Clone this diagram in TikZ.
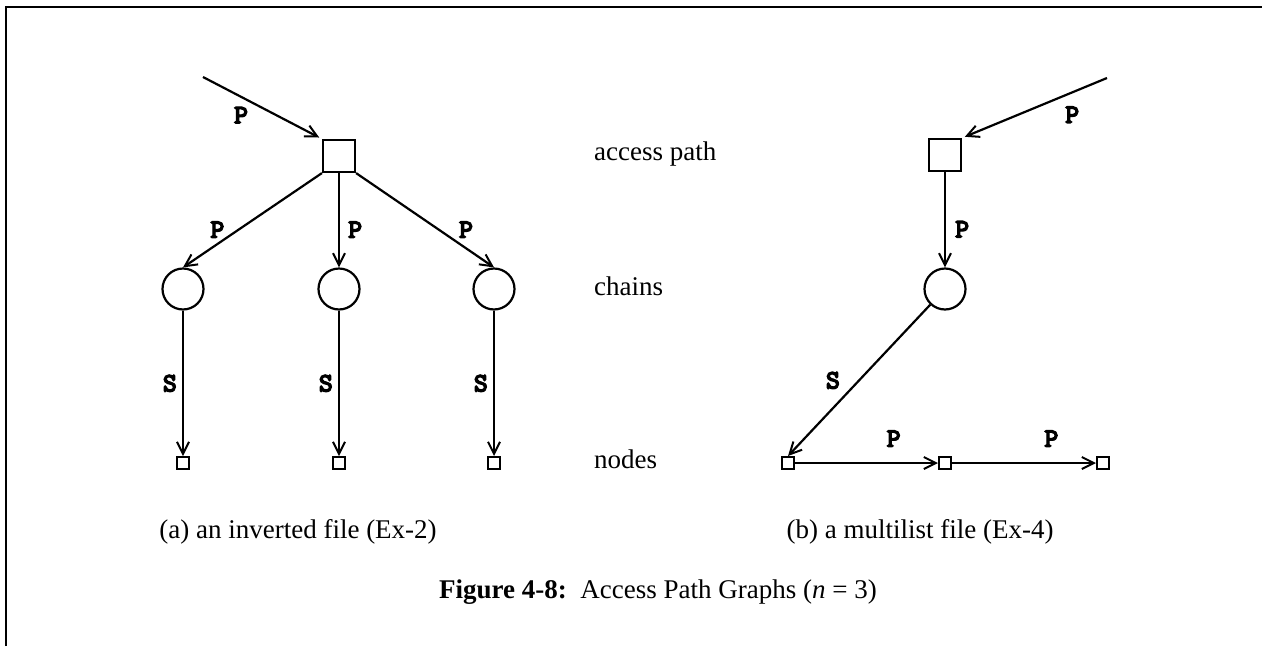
\documentclass[tikz,border=0pt]{standalone}
\usepackage{fontspec}
\setmainfont{Liberation Serif}
\newfontfamily\lblfont[FakeBold=4]{lmmonolt10-bold.otf}
\usetikzlibrary{arrows.meta}

\begin{document}
\begin{tikzpicture}[x=1pt,y=-1pt,
  every node/.style={inner sep=0pt},
  conn/.style={line width=2.2pt, -{Straight Barb[length=12pt,width=12pt,line width=2pt]}},
  bigbox/.style={draw, line width=2.2pt, minimum size=32pt},
  chain/.style={draw, circle, line width=2.2pt, minimum size=41pt},
  rec/.style={draw, line width=2pt, minimum size=12pt},
  lbl/.style={font=\fontsize{27}{30}\lblfont},
  txt/.style={font=\fontsize{27}{32}\selectfont},
]
\useasboundingbox (0,0) rectangle (1262,646);

% frame
\draw[line width=2pt] (6,646) -- (6,7) -- (1262,7);

% (a) inverted file
\coordinate (inA) at (203,77);
\node[bigbox] (A) at (339,156) {};
\node[chain] (L) at (183,289) {};
\node[chain] (M) at (339,289) {};
\node[chain] (R) at (494,289) {};
\node[rec] (nL) at (183,463) {};
\node[rec] (nM) at (339,463) {};
\node[rec] (nR) at (494,463) {};

\draw[conn, shorten >=3pt] (inA) -- node[lbl, pos=0.32, below=9pt] {P} (A.north west);
\draw[conn] (A.south west) -- node[lbl, pos=0.6, left=13pt] {P} (L.north);
\draw[conn] (A.south) -- node[lbl, pos=0.6, right=8pt] {P} (M.north);
\draw[conn] (A.south east) -- node[lbl, pos=0.6, right=19pt] {P} (R.north);
\draw[conn] (L.south) -- node[lbl, pos=0.5, left=5pt] {S} (nL.north);
\draw[conn] (M.south) -- node[lbl, pos=0.5, left=5pt] {S} (nM.north);
\draw[conn] (R.south) -- node[lbl, pos=0.5, left=5pt] {S} (nR.north);

% level names
\node[txt, anchor=base west] (lap) at (594,160) {access path};
\node[txt, anchor=base west] (lch) at (594,295) {chains};
\node[txt, anchor=base west] (lnd) at (594,468) {nodes};

% (b) multilist file
\coordinate (inB) at (1107,78);
\node[bigbox] (B) at (945,155) {};
\node[chain] (C) at (945,289) {};
\node[rec] (n1) at (788,463) {};
\node[rec] (n2) at (945,463) {};
\node[rec] (n3) at (1103,463) {};

\draw[conn, shorten >=3pt] (inB) -- node[lbl, pos=0.24, below=13pt] {P} (B.north east);
\draw[conn] (B) -- node[lbl, pos=0.6, right=9pt] {P} (C);
\draw[conn] (C) -- node[lbl, pos=0.5, left=18pt] {S} (n1.north);
\draw[conn] (n1) -- node[lbl, pos=0.69, above=15pt] {P} (n2);
\draw[conn] (n2) -- node[lbl, pos=0.69, above=15pt] {P} (n3);

% captions
\node[txt, anchor=base] (capa) at (298,538) {(a) an inverted file (Ex-2)};
\node[txt, anchor=base] (capb) at (920,538) {(b) a multilist file (Ex-4)};
\node[txt, anchor=base] (fig) at (658,598) {\textbf{Figure 4-8:}\ \ Access Path Graphs (\textit{n} = 3)};
\end{tikzpicture}
\end{document}
